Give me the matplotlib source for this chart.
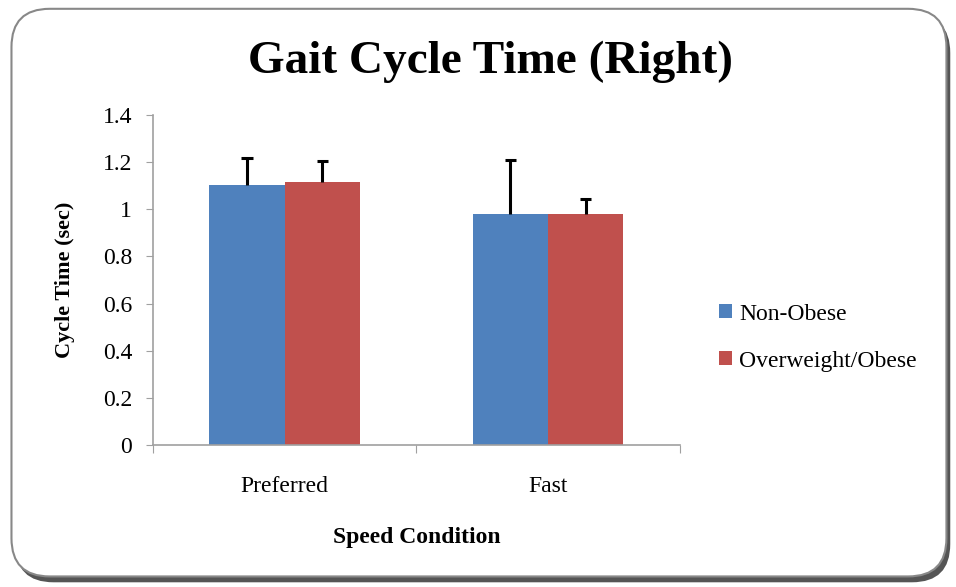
import matplotlib
matplotlib.use("Agg")
import matplotlib.pyplot as plt
import numpy as np
from matplotlib.patches import FancyBboxPatch, Patch

categories = ["Preferred", "Fast"]
groups = ["Non-Obese", "Overweight/Obese"]
non_obese = [1.104, 0.979]
non_obese_err = [0.115, 0.232]
overweight = [1.115, 0.979]
overweight_err = [0.089, 0.066]
yticks = [0, 0.2, 0.4, 0.6, 0.8, 1, 1.2, 1.4]
ytick_labels = ["0", "0.2", "0.4", "0.6", "0.8", "1", "1.2", "1.4"]

blue = "#4F81BD"
red = "#C0504D"
grey = "#A0A0A0"

plt.rcParams["font.family"] = ["Liberation Serif", "DejaVu Serif"]

fig = plt.figure(figsize=(9.56, 5.87), dpi=100)

# rounded frame with a bit of shadow
shadow = FancyBboxPatch((0.016, 0.008), 0.978, 0.967, boxstyle="round,pad=0,rounding_size=0.04",
                        transform=fig.transFigure, facecolor="#555555", edgecolor="none",
                        mutation_aspect=956/587, zorder=0)
frame = FancyBboxPatch((0.012, 0.018), 0.978, 0.967, boxstyle="round,pad=0,rounding_size=0.04",
                       transform=fig.transFigure, facecolor="white", edgecolor="#888888",
                       linewidth=1.5, mutation_aspect=956/587, zorder=1)
fig.patches.extend([shadow, frame])

ax = fig.add_axes([0.160, 0.242, 0.551, 0.562])
ax.set_zorder(2)
ax.patch.set_alpha(0)

x = np.arange(len(categories))
w = 0.286
ax.bar(x - w/2, non_obese, w, color=blue, label=groups[0])
ax.bar(x + w/2, overweight, w, color=red, label=groups[1])

# error bars only going up, as in the original
for xs, vals, errs in [(x - w/2, non_obese, non_obese_err), (x + w/2, overweight, overweight_err)]:
    tops = np.array(vals) + np.array(errs)
    ax.vlines(xs, vals, tops, color="black", linewidth=2.2, zorder=3)
    ax.hlines(tops, xs - 0.022, xs + 0.022, color="black", linewidth=2.2, zorder=3)

ax.set_xlim(-0.5, 1.5)
ax.set_ylim(0, 1.4)
ax.set_yticks(yticks)
ax.set_yticklabels(ytick_labels, fontsize=17)
ax.set_xticks([-0.5, 0.5, 1.5])
ax.set_xticklabels([])
ax.set_xticks(x, minor=True)
ax.set_xticklabels(categories, minor=True, fontsize=17)
ax.tick_params(axis="x", which="minor", length=0, pad=22)
ax.tick_params(axis="x", which="major", length=6, color=grey, direction="out")
ax.tick_params(axis="y", length=5, color=grey, direction="out", pad=10)
for s in ["top", "right"]:
    ax.spines[s].set_visible(False)
for s in ["left", "bottom"]:
    ax.spines[s].set_color(grey)
    ax.spines[s].set_linewidth(1.2)

ax.set_ylabel("Cycle Time (sec)", fontsize=16, fontweight="bold", labelpad=20)
ax.set_xlabel("Speed Condition", fontsize=17, fontweight="bold", labelpad=22)

fig.text(0.513, 0.895, "Gait Cycle Time (Right)", fontsize=34, fontweight="bold",
         ha="center", va="center", zorder=3)

handles = [Patch(facecolor=blue), Patch(facecolor=red)]
fig.legend(handles, groups, loc="center left", bbox_to_anchor=(0.73, 0.425),
           frameon=False, fontsize=17, handlelength=0.55, handleheight=0.55,
           handletextpad=0.3, labelspacing=1.1)

fig.savefig("out.png", dpi=100)
